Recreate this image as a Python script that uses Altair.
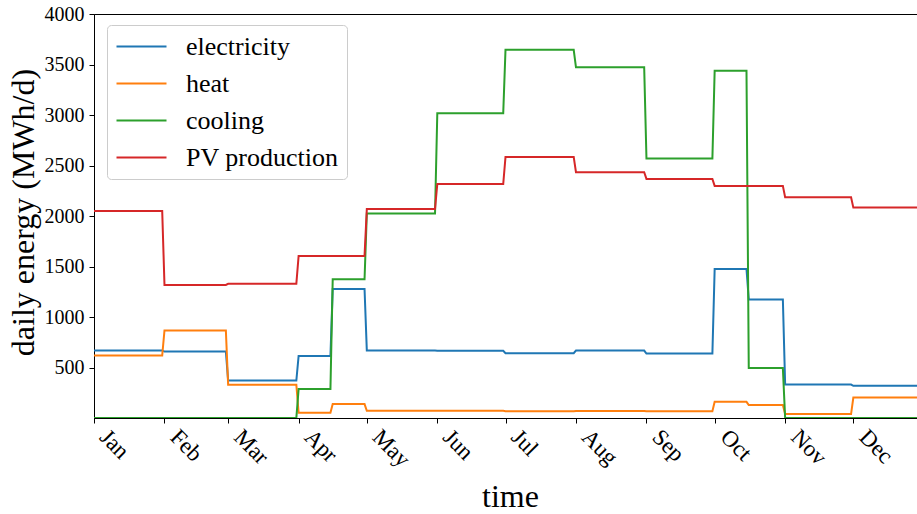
import altair as alt
import pandas as pd

# piecewise-constant daily values (MWh/d)
segment_starts = ["2019-01-01", "2019-02-01", "2019-03-01", "2019-04-01", "2019-04-16",
                  "2019-05-01", "2019-06-01", "2019-07-01", "2019-08-01", "2019-09-01",
                  "2019-10-01", "2019-10-16", "2019-11-01", "2019-12-01"]
segment_ends = ["2019-01-31", "2019-02-28", "2019-03-31", "2019-04-15", "2019-04-30",
                "2019-05-31", "2019-06-30", "2019-07-31", "2019-08-31", "2019-09-30",
                "2019-10-15", "2019-10-31", "2019-11-30", "2019-12-31"]

electricity = [668, 658, 371, 615, 1278, 668, 665, 642, 668, 638, 1476, 1173, 331, 319]
heat = [618, 866, 329, 51, 138, 71, 71, 66, 70, 67, 160, 128, 39, 203]
cooling = [0, 0, 0, 286, 1374, 2024, 3017, 3646, 3472, 2570, 3439, 494, 0, 0]
pv_production = [2050, 1318, 1328, 1605, 1605, 2070, 2317, 2585, 2433, 2367, 2298, 2298, 2186, 2083]

series_names = ["electricity", "heat", "cooling", "PV production"]
series_colors = ["#1f77b4", "#ff7f0e", "#2ca02c", "#d62728"]
y_ticks = [500, 1000, 1500, 2000, 2500, 3000, 3500, 4000]

rows = []
for name, vals in zip(series_names, [electricity, heat, cooling, pv_production]):
    for s, e, v in zip(segment_starts, segment_ends, vals):
        rows.append({"series": name, "date": s, "value": v})
        rows.append({"series": name, "date": e, "value": v})
df = pd.DataFrame(rows)

FONT = "Liberation Serif"

month_ticks = [alt.DateTime(year=2019, month=m, date=1, utc=True) for m in range(1, 13)]

chart = alt.Chart(df).mark_line(strokeWidth=2, clip=True).encode(
    x=alt.X(
        "date:T",
        title="time",
        scale=alt.Scale(type="utc", domain=[alt.DateTime(year=2019, month=1, date=1, utc=True),
                                             alt.DateTime(year=2019, month=12, date=29, utc=True)]),
        axis=alt.Axis(
            values=month_ticks, format="%b", labelAngle=45, labelAlign="left",
            labelBaseline="middle", labelOffset=9, labelPadding=10, tickSize=5,
            labelFontSize=23, labelColor="black", labelFont=FONT,
            labelOverlap=False, labelFlush=False, grid=False,
            domainColor="black", tickColor="black",
            titleFontSize=32, titleFont=FONT, titleFontWeight="normal", titleColor="black",
            titleX=416, titleY=88, titleBaseline="alphabetic", titleAlign="center",
        ),
    ),
    y=alt.Y(
        "value:Q",
        title="daily energy (MWh/d)",
        scale=alt.Scale(domain=[0, 4000], nice=False),
        axis=alt.Axis(
            values=y_ticks, format="d", tickSize=5, labelPadding=5, labelFontSize=20,
            labelColor="black", labelFont=FONT, grid=False,
            domainColor="black", tickColor="black",
            titleFontSize=32, titleFont=FONT, titleFontWeight="normal", titleColor="black",
            titleX=-61, titleY=198, titleBaseline="alphabetic", titleAlign="center",
        ),
    ),
    color=alt.Color(
        "series:N",
        scale=alt.Scale(domain=series_names, range=series_colors),
        legend=alt.Legend(
            orient="none", legendX=13, legendY=11, title=None,
            symbolType="M-2,0H2", symbolSize=625, symbolStrokeWidth=2,
            symbolOffset=13, labelOffset=31,
            labelFontSize=26, labelFont=FONT, labelColor="black",
            padding=8, rowPadding=10,
            fillColor="rgba(255,255,255,0.8)", strokeColor="#cccccc", cornerRadius=4,
        ),
    ),
).properties(
    width=823, height=404,
    padding={"left": 94, "top": 14, "right": 0, "bottom": 96},
    autosize=alt.AutoSizeParams(type="none"),
).configure(font=FONT).configure_view(stroke="black", strokeWidth=1)

chart.save("out.html", embed_options={"renderer": "svg", "actions": False})
